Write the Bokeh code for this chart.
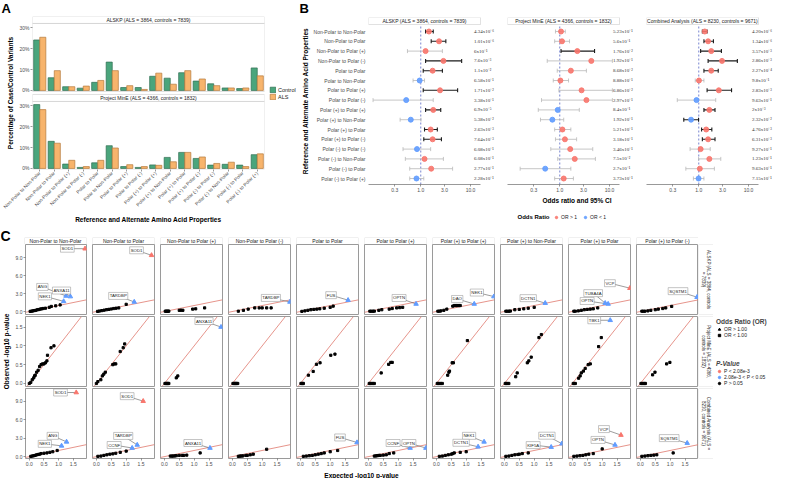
import math
from bokeh.plotting import figure
from bokeh.layouts import row, column
from bokeh.models import (Range1d, FactorRange, FixedTicker, Legend, LegendItem, Label,
                          LabelSet, BoxAnnotation, ColumnDataSource, PrintfTickFormatter,
                          CustomJSTickFormatter, Spacer)
from bokeh.transform import dodge
from bokeh.core.properties import value
from bokeh.embed import file_html
from bokeh.resources import INLINE

# ======================= DATA =======================
categories = [
    "Non-Polar to Non-Polar", "Non-Polar to Polar", "Non-Polar to Polar (+)",
    "Non-Polar to Polar (-)", "Polar to Polar", "Polar to Non-Polar",
    "Polar to Polar (+)", "Polar to Polar (-)", "Polar (+) to Polar (+)",
    "Polar (+) to Non-Polar", "Polar (+) to Polar", "Polar (+) to Polar (-)",
    "Polar (-) to Polar (-)", "Polar (-) to Non-Polar", "Polar (-) to Polar",
    "Polar (-) to Polar (+)",
]
cohort_alskp = "ALSKP (ALS = 3864, controls = 7839)"
cohort_mine = "Project MinE (ALS = 4366, controls = 1832)"
cohort_comb = "Combined Analysis (ALS = 8230, controls = 9671)"

# Panel A: percentage of case/control variants
alskp_control_pct = [24.2, 6.1, 1.8, 1.1, 3.9, 13.6, 1.4, 1.4, 6.8, 5.9, 8.5, 4.5, 3.2, 1.2, 0.9, 10.8]
alskp_als_pct = [25.5, 9.5, 1.8, 2.1, 4.8, 9.5, 2.3, 0.5, 8.3, 3.0, 9.5, 5.5, 2.3, 1.2, 1.2, 7.0]
mine_control_pct = [30.6, 13.0, 2.1, 0.5, 2.7, 10.9, 0.9, 0.5, 1.7, 5.3, 7.7, 4.8, 1.6, 2.0, 1.6, 6.6]
mine_als_pct = [28.2, 12.1, 3.9, 0.9, 3.9, 9.8, 1.8, 0.9, 1.5, 3.2, 7.7, 5.5, 2.4, 3.0, 0.9, 7.0]

# Panel B: odds ratios, 95% CI and p-values
alskp_or = [1.46, 2.33, 1.25, 2.85, 1.73, 0.95, 2.44, 0.51, 1.78, 0.63, 1.58, 1.73, 0.84, 1.19, 1.62, 0.82]
alskp_lo = [1.25, 1.62, 0.54, 1.25, 1.12, 0.70, 1.12, 0.11, 1.25, 0.385, 1.19, 1.15, 0.44, 0.49, 0.60, 0.60]
alskp_hi = [1.78, 3.19, 2.72, 6.63, 2.72, 1.19, 5.5, 1.78, 2.52, 1.01, 2.15, 2.6, 1.58, 2.85, 4.36, 1.15]
alskp_p = ["4.34e-6", "1.01e-6", "6e-1", "7.6e-3", "1.1e-2", "6.58e-1", "1.71e-2", "3.38e-1",
           "6.9e-5", "5.38e-2", "2.63e-3", "7.64e-3", "6.08e-1", "6.08e-1", "2.77e-1", "2.28e-1"]

mine_or = [1.06, 1.11, 2.25, 4.3, 1.67, 1.03, 2.74, 3.43, 0.91, 0.71, 1.13, 1.27, 1.62, 2.0, 0.51, 1.2]
mine_lo = [0.82, 0.79, 1.06, 0.56, 0.89, 0.74, 0.96, 0.43, 0.37, 0.41, 0.79, 0.82, 0.66, 0.91, 0.16, 0.79]
mine_hi = [1.29, 1.57, 5.0, 11.4, 3.43, 1.5, 11.4, 11.4, 2.47, 1.2, 1.67, 2.18, 4.6, 5.2, 1.67, 1.88]
mine_p = ["5.23e-1", "5.6e-1", "1.76e-2", "1.92e-1", "8.68e-2", "8.88e-1", "6.86e-2", "2.97e-1",
          "8.4e-1", "1.92e-1", "5.21e-1", "3.18e-1", "3.46e-1", "7.5e-2", "2.7e-1", "3.73e-1"]

comb_or = [1.32, 1.54, 1.78, 2.93, 1.78, 1.01, 2.53, 0.90, 1.63, 0.70, 1.41, 1.54, 1.09, 1.63, 1.05, 0.99]
comb_lo = [1.18, 1.27, 1.09, 1.54, 1.27, 0.85, 1.47, 0.37, 1.27, 0.50, 1.14, 1.18, 0.67, 0.99, 0.55, 0.78]
comb_hi = [1.47, 1.97, 2.85, 5.96, 2.46, 1.27, 4.56, 2.19, 2.12, 0.99, 1.83, 2.12, 1.70, 2.77, 2.06, 1.27]
comb_p = ["4.20e-6", "1.34e-6", "3.57e-3", "2.86e-3", "2.27e-4", "9.8e-1", "2.83e-3", "9.63e-1",
          "2e-3", "2.32e-2", "4.76e-3", "6.31e-3", "9.27e-1", "1.23e-1", "9.63e-1", "7.15e-1"]

# Panel C: QQ plots (expected vs observed -log10 p)
qq_columns = ["Non-Polar to Non-Polar", "Non-Polar to Polar", "Non-Polar to Polar (+)",
              "Non-Polar to Polar (-)", "Polar to Polar", "Polar to Polar (+)",
              "Polar (+) to Polar (+)", "Polar (+) to Non-Polar", "Polar (+) to Polar",
              "Polar (+) to Polar (-)"]

alskp_exp = [
    [0.03, 0.08, 0.12, 0.17, 0.22, 0.27, 0.32, 0.37, 0.42, 0.47, 0.55, 0.68, 0.75, 0.9, 1.05],
    [0.04, 0.1, 0.18, 0.26, 0.34, 0.42, 0.5, 0.58, 0.66, 0.75, 1.0],
    [0.03, 0.06, 0.09, 0.12, 0.15, 0.5, 0.56, 0.62, 0.95, 1.05, 1.35],
    [0.2, 0.37, 0.53, 0.75, 0.9, 1.0, 1.15, 1.3],
    [0.05, 0.15, 0.25, 0.35, 0.45, 0.55, 0.65, 0.8, 1.0, 1.1],
    [0.05, 0.1, 0.15, 0.2, 0.35, 0.45, 0.7, 0.8, 0.95, 1.05, 1.15],
    [0.05, 0.1, 0.15, 0.25, 0.35, 0.55, 0.6, 0.65, 0.7, 0.75, 0.8],
    [0.05, 0.1, 0.15, 0.2, 0.35, 0.5, 0.65, 0.8, 1.0],
    [0.05, 0.1, 0.2, 0.3, 0.4, 0.5, 0.6, 0.7, 0.85],
    [0.05, 0.1, 0.15, 0.25, 0.35, 0.5, 0.6, 0.75, 0.85, 1.05],
]
alskp_obs = [
    [0.02, 0.06, 0.1, 0.15, 0.2, 0.28, 0.33, 0.4, 0.45, 0.5, 0.55, 0.7, 0.85, 0.95, 1.1],
    [0.02, 0.08, 0.15, 0.22, 0.3, 0.36, 0.42, 0.5, 0.55, 0.6, 1.2],
    [0.05, 0.05, 0.05, 0.05, 0.06, 0.2, 0.22, 0.2, 0.4, 0.45, 0.6],
    [0.05, 0.2, 0.4, 0.6, 0.6, 0.6, 0.6, 0.6],
    [0.02, 0.1, 0.2, 0.3, 0.35, 0.4, 0.45, 0.55, 0.7, 0.9],
    [0.05, 0.05, 0.05, 0.06, 0.2, 0.3, 0.4, 0.5, 0.6, 0.65, 0.7],
    [0.05, 0.05, 0.1, 0.2, 0.4, 0.9, 1.0, 1.0, 1.0, 1.0, 1.0],
    [0.05, 0.05, 0.05, 0.08, 0.3, 0.35, 0.45, 0.55, 0.7],
    [0.05, 0.05, 0.1, 0.2, 0.3, 0.35, 0.4, 0.45, 0.6],
    [0.05, 0.05, 0.05, 0.1, 0.2, 0.3, 0.4, 0.5, 0.6, 0.85],
]
mine_exp = [
    [0.0, 0.05, 0.1, 0.15, 0.18, 0.2, 0.25, 0.3, 0.35, 0.4, 0.45, 0.5, 0.55, 0.6, 0.62, 0.74, 0.84],
    [0.0, 0.05, 0.15, 0.2, 0.25, 0.3, 0.55, 0.6, 0.65, 0.8, 0.9, 0.95],
    [0.02, 0.05, 0.08, 0.1, 0.12, 0.15, 0.4, 0.45],
    [0.02, 0.05, 0.08, 0.1, 0.12, 0.15, 0.18],
    [0.02, 0.05, 0.08, 0.1, 0.27, 0.43, 0.54, 0.66, 1.02, 1.16],
    [0.03, 0.06, 0.1, 0.15, 0.2, 0.43, 0.68, 0.75, 0.8],
    [0.03, 0.06, 0.1, 0.15, 0.2, 0.38, 0.42, 0.44, 0.53, 0.57, 1.04],
    [0.03, 0.06, 0.1, 0.15, 0.38, 0.43, 0.77, 0.82, 0.9, 1.16, 1.24],
    [0.03, 0.06, 0.1, 0.21, 0.26, 0.3, 0.37, 0.43, 0.53, 0.6, 0.88, 0.97],
    [0.02, 0.06, 0.1, 0.14, 0.17, 0.41, 0.49, 0.88, 0.99],
]
mine_obs = [
    [0.0, 0.03, 0.1, 0.15, 0.2, 0.22, 0.3, 0.35, 0.45, 0.5, 0.52, 0.52, 0.55, 0.6, 0.75, 0.95, 1.0],
    [0.0, 0.05, 0.1, 0.2, 0.25, 0.3, 0.5, 0.52, 0.52, 0.85, 0.95, 1.05],
    [0, 0, 0, 0, 0, 0, 0.15, 0.2],
    [0, 0, 0, 0, 0, 0, 0],
    [0, 0, 0, 0, 0.22, 0.32, 0.51, 0.55, 0.75, 0.78],
    [0, 0, 0, 0, 0, 0.28, 0.51, 0.56, 0.56],
    [0, 0, 0, 0, 0, 0.22, 0.3, 0.33, 0.55, 0.55, 1.14],
    [0, 0, 0, 0, 0.18, 0.28, 0.55, 0.6, 0.7, 1.22, 1.3],
    [0, 0, 0, 0.14, 0.2, 0.28, 0.33, 0.4, 0.5, 0.52, 0.98, 1.22],
    [0, 0, 0, 0, 0, 0.23, 0.3, 0.52, 0.56],
]
comb_exp = [
    [0.05, 0.1, 0.15, 0.2, 0.25, 0.3, 0.35, 0.4, 0.5, 0.6, 0.7, 0.8, 0.95],
    [0.05, 0.15, 0.25, 0.35, 0.45, 0.55, 0.65, 0.8, 1.0],
    [0.2, 0.25, 0.3, 0.35, 0.4, 0.5, 0.6, 0.65, 0.75, 1.2],
    [0.2, 0.25, 0.3, 0.35, 0.45, 0.5, 0.6, 0.7, 1.15],
    [0.1, 0.2, 0.3, 0.4, 0.5, 0.6, 0.7, 0.8, 1.0, 1.25],
    [0.2, 0.25, 0.3, 0.35, 0.4, 0.5, 0.6, 0.7, 0.85],
    [0.1, 0.2, 0.3, 0.4, 0.5, 0.55, 0.6, 0.8, 1.0],
    [0.05, 0.15, 0.25, 0.35, 0.45, 0.5, 0.6, 0.8],
    [0.05, 0.15, 0.25, 0.35, 0.45, 0.55, 0.7, 1.0],
    [0.05, 0.15, 0.25, 0.35, 0.45, 0.55, 1.1],
]
comb_obs = [
    [0.05, 0.1, 0.15, 0.2, 0.3, 0.35, 0.4, 0.5, 0.55, 0.6, 0.7, 0.8, 1.0],
    [0.05, 0.1, 0.2, 0.3, 0.4, 0.45, 0.55, 0.7, 0.9],
    [0.1, 0.1, 0.1, 0.12, 0.15, 0.2, 0.2, 0.2, 0.25, 0.6],
    [0.05, 0.1, 0.1, 0.12, 0.2, 0.2, 0.3, 0.4, 1.2],
    [0.05, 0.1, 0.15, 0.2, 0.3, 0.4, 0.5, 0.6, 0.8, 1.0],
    [0.1, 0.12, 0.15, 0.2, 0.2, 0.25, 0.3, 0.5, 0.6],
    [0.05, 0.1, 0.2, 0.3, 0.4, 0.5, 0.6, 0.7, 0.8],
    [0.05, 0.1, 0.2, 0.3, 0.35, 0.4, 0.5, 0.6],
    [0.05, 0.1, 0.15, 0.2, 0.3, 0.4, 0.5, 1.25],
    [0.05, 0.1, 0.15, 0.2, 0.25, 0.3, 0.6],
]

# labelled genes in panel C
alskp_gene_col = [0, 0, 0, 0, 1, 1, 3, 4, 5, 6, 6, 7, 8, 8, 8, 9]
alskp_gene_name = ["SOD1", "ANG", "ANXA11", "NEK1", "SOD1", "TARDBP", "TARDBP", "FUS", "OPTN",
                   "NEK1", "DAO", "DCTN1", "TUBA4A", "OPTN", "VCP", "SQSTM1"]
alskp_gene_exp = [1.9, 1.25, 1.4, 1.17, 1.85, 1.27, 1.93, 1.6, 1.6, 1.93, 1.27, 1.37, 1.1, 1.2, 1.93, 1.9]
alskp_gene_obs = [10.5, 2.6, 2.5, 1.7, 9.4, 1.6, 1.6, 1.9, 1.26, 2.5, 1.26, 1.4, 1.4, 1.26, 3.9, 2.4]

mine_gene_col = [2, 8]
mine_gene_name = ["ANXA11", "TBK1"]
mine_gene_exp = [1.9, 1.27]
mine_gene_obs = [1.5, 1.68]

comb_gene_col = [0, 0, 0, 1, 1, 1, 2, 4, 5, 5, 6, 6, 7, 7, 8, 8, 9]
comb_gene_name = ["SOD1", "ANG", "NEK1", "SOD1", "TARDBP", "CCNF", "ANXA11", "FUS", "CCNF", "OPTN",
                  "NEK1", "DCTN1", "DCTN1", "KIF5A", "VCP", "OPTN", "SQSTM1"]
comb_gene_exp = [1.6, 1.27, 1.1, 1.57, 1.37, 1.2, 1.53, 1.9, 1.4, 1.93, 1.6, 1.4, 1.93, 1.57, 1.63, 1.43, 1.57]
comb_gene_obs = [10.4, 2.4, 1.75, 9.0, 1.9, 1.4, 1.4, 2.3, 1.4, 1.4, 2.4, 1.6, 2.1, 1.55, 3.5, 1.9, 2.2]

P_STRICT = 2.08e-3

# ======================= STYLE =======================
FONT = "Liberation Sans"
TXT = "#4d4d4d"
FRAME_GREY = "#8f8f8f"
GREEN, GREEN_LINE = "#4aa57c", "#2f6e51"
ORANGE, ORANGE_LINE = "#f7b46c", "#b47a3c"
RED, BLUE = "#F8766D", "#619CFF"
CI_SIG, CI_NS = "#1a1a1a", "#b8b8b8"
DIAG = "#e0796d"
NAN = float("nan")

# label offsets in pixels (dx right, dy up) for gene call-outs
alskp_lab_dx = [-18, -24, -9, -19, -15, -16, -19, -17, -17, -17, -17, -17, -12, -21, -20, -19]
alskp_lab_dy = [0, 9, 6, 5, 5, 6, 4, 5, 6, 4, 5, 5, 10, 3, 5, 6]
mine_lab_dx = [-17, -16]
mine_lab_dy = [6, 0]
comb_lab_dx = [-16, -14, -17, -16, -14, -18, -17, -17, -17, -17, -15, -17, -15, -18, -17, -17, -18]
comb_lab_dy = [0, 6, 2, 5, 9, 3, 5, 5, 5, 5, 6, 4, 8, 2, 6, 5, 5]


def mkfig(w, h, xr, yr, bl=0, br=0, bt=0, bb=0, xloc=None, yloc=None, xtype="auto"):
    p = figure(width=w, height=h, x_range=xr, y_range=yr, x_axis_type=xtype,
               x_axis_location=xloc, y_axis_location=yloc,
               output_backend="svg", toolbar_location=None, tools="",
               min_border_left=bl, min_border_right=br, min_border_top=bt, min_border_bottom=bb)
    p.grid.visible = False
    p.outline_line_color = None
    p.background_fill_color = "white"
    p.border_fill_color = "white"
    for ax in list(p.xaxis) + list(p.yaxis):
        ax.major_label_text_font = FONT
        ax.major_label_text_font_size = "5px"
        ax.major_label_text_color = TXT
        ax.axis_label_text_font = FONT
        ax.axis_label_text_font_size = "6.5px"
        ax.axis_label_text_font_style = "bold"
        ax.axis_label_text_color = "black"
        ax.major_tick_out = 2
        ax.major_tick_in = 0
        ax.minor_tick_out = 0
        ax.minor_tick_in = 0
        ax.major_tick_line_color = "#555555"
        ax.major_tick_line_width = 0.6
        ax.major_label_standoff = 1
        ax.axis_label_standoff = 2
        ax.axis_line_color = None
    return p


def text_label(text, x, y, x_units="screen", y_units="screen", angle=0, size="5px",
               align="center", baseline="middle", style="normal", color="#1a1a1a"):
    return Label(x=x, y=y, x_units=x_units, y_units=y_units, text=text, angle=angle,
                 text_align=align, text_baseline=baseline, text_font=FONT,
                 text_font_size=size, text_font_style=style, text_color=color)


def style_legend(lg, title_style="bold"):
    lg.label_text_font = FONT
    lg.label_text_font_size = "5px"
    lg.label_text_color = "#222222"
    lg.title_text_font = FONT
    lg.title_text_font_size = "6.5px"
    lg.title_text_font_style = title_style
    lg.glyph_width = 6
    lg.glyph_height = 6
    lg.label_height = 6
    lg.label_width = 6
    lg.label_standoff = 2
    lg.spacing = 0
    lg.padding = 1
    lg.margin = 0
    lg.title_standoff = 1
    lg.border_line_color = None
    lg.background_fill_alpha = 0


TOTAL_W = 779
HEAD_H = 16
TOP_H = 210

# ======================= HEADER (panel letters A, B) =======================
A_W, LEGA_W = 266, 32
head = mkfig(TOTAL_W, HEAD_H, Range1d(0, 1), Range1d(0, 1))
head.add_layout(text_label("A", 1, HEAD_H / 2, size="13px", align="left",
                           style="bold", color="black"))
head.add_layout(text_label("B", A_W + LEGA_W + 1, HEAD_H / 2, size="13px", align="left",
                           style="bold", color="black"))

# ======================= PANEL A =======================
A_BL, A_BR, A_BT, A_BB = 32, 2, 0, 56
A_FW = A_W - A_BL - A_BR
A_FH = TOP_H - A_BT - A_BB
A_STRIP_H, A_GAP_H = 7, 3
A_PLOT_H = (A_FH - 2 * A_STRIP_H - A_GAP_H) / 2
PX_PCT = 2.1
a_ymin = -0.5
a_low_top = a_ymin + A_PLOT_H / PX_PCT
a_low_strip = a_low_top + A_STRIP_H / PX_PCT
a_up_bottom = a_low_strip + A_GAP_H / PX_PCT
a_up_base = a_up_bottom - a_ymin
a_up_top = a_up_bottom + A_PLOT_H / PX_PCT
a_up_strip = a_up_top + A_STRIP_H / PX_PCT

pA = mkfig(A_W, TOP_H, FactorRange(factors=categories, range_padding=0, factor_padding=0),
           Range1d(a_ymin, a_up_strip), A_BL, A_BR, A_BT, A_BB, xloc="below", yloc="left")
BW = 0.42
srcA_up = ColumnDataSource(dict(cat=categories, base=[a_up_base] * len(categories),
                                ctrl=[a_up_base + v for v in alskp_control_pct],
                                als=[a_up_base + v for v in alskp_als_pct]))
srcA_lo = ColumnDataSource(dict(cat=categories, base=[0] * len(categories),
                                ctrl=mine_control_pct, als=mine_als_pct))
for src in (srcA_up, srcA_lo):
    pA.vbar(x=dodge("cat", -BW / 2, range=pA.x_range), bottom="base", top="ctrl", width=BW,
            fill_color=GREEN, line_color=GREEN_LINE, line_width=0.7, source=src)
    pA.vbar(x=dodge("cat", BW / 2, range=pA.x_range), bottom="base", top="als", width=BW,
            fill_color=ORANGE, line_color=ORANGE_LINE, line_width=0.7, source=src)
for pb, pt, stt, txt in [(a_ymin, a_low_top, a_low_strip, cohort_mine),
                         (a_up_bottom, a_up_top, a_up_strip, cohort_alskp)]:
    pA.add_layout(BoxAnnotation(bottom=pb, top=pt, fill_color=None, line_color=FRAME_GREY, line_width=0.9))
    pA.add_layout(BoxAnnotation(bottom=pt, top=stt, fill_color="white", fill_alpha=1,
                                line_color=FRAME_GREY, line_width=0.9))
    pA.add_layout(text_label(txt, A_FW / 2, (pt + stt) / 2, y_units="data"))
pA.yaxis.ticker = FixedTicker(ticks=[0, 10, 20, 30] + [a_up_base + v for v in (0, 10, 20, 30)])
pA.yaxis.formatter = CustomJSTickFormatter(
    code=f"var v = tick > {a_low_strip:.5f} ? tick - {a_up_base:.5f} : tick; return Math.round(v) + '%';")
pA.yaxis.axis_label = "Percentage of Case/Control Variants"
pA.xaxis.axis_label = "Reference and Alternate Amino Acid Properties"
pA.xaxis.major_label_orientation = math.pi / 4
pA.xaxis.major_label_text_font_size = "4.8px"

# legend for panel A (own canvas, right of panel A, centred on its frame)
legA_fig = mkfig(LEGA_W, A_FH, Range1d(0, 1), Range1d(0, 1))
r_ctrl = legA_fig.vbar(x=[NAN], top=[NAN], width=0.1, fill_color=GREEN, line_color=GREEN_LINE, line_width=0.7)
r_als = legA_fig.vbar(x=[NAN], top=[NAN], width=0.1, fill_color=ORANGE, line_color=ORANGE_LINE, line_width=0.7)
legA = Legend(items=[LegendItem(label="Control", renderers=[r_ctrl]),
                     LegendItem(label="ALS", renderers=[r_als])],
              location="center_left")
style_legend(legA)
legA.label_text_font_size = "5.5px"
legA.glyph_width = 7
legA.glyph_height = 7
legA.label_height = 7
legA.margin = 3
legA_fig.add_layout(legA)
legA_col = column(legA_fig, Spacer(width=LEGA_W, height=A_BB))

# ======================= PANEL B =======================
LEGB_H = 20
B_H = TOP_H - LEGB_H
B_BT, B_BB = 1, 22
B_FH = B_H - B_BT - B_BB
B_AXW = 112             # width of the plotted (axis) part of each panel
B_PW = [27, 27, 21]     # room for the p-value column right of each panel
B_ROW_PX = (B_FH - 7 - 7 - 6) / 15
b_ymin = 1 - 6 / B_ROW_PX
b_rows_top = 16 + 7 / B_ROW_PX
b_ymax = b_rows_top + 7 / B_ROW_PX
B_LOG0, B_LOG1 = -1.05, 1.2
B_XMIN, B_XMAX = 10 ** B_LOG0, 10 ** B_LOG1
PX_PER_DEC = B_AXW / (B_LOG1 - B_LOG0)
P_TEXT_X = 10 ** 1.07

SUP = str.maketrans("-0123456789", "⁻⁰¹²³⁴⁵⁶⁷⁸⁹")


def fmt_p(s):
    m, e = s.split("e")
    return f"{m}x10{e.translate(SUP)}"


def forest(or_, lo, hi, pv, strip_text, bl, pw, first=False, middle=False):
    xend = 10 ** (B_LOG1 + pw / PX_PER_DEC)
    p = mkfig(bl + B_AXW + pw, B_H, Range1d(B_XMIN, xend), Range1d(b_ymin, b_ymax),
              bl, 0, B_BT, B_BB, xloc="below", yloc="left" if first else None, xtype="log")
    rows = list(range(len(or_), 0, -1))
    sig = [float(s) < 0.05 for s in pv]
    p.segment(x0=[1], y0=[b_ymin], x1=[1], y1=[b_rows_top], line_color="#5566c4",
              line_dash="2 2", line_width=0.8)
    src = ColumnDataSource(dict(y=rows, lo=lo, hi=hi,
                                col=[CI_SIG if s else CI_NS for s in sig],
                                lw=[1.1 if s else 0.8 for s in sig],
                                ptxt=[fmt_p(s) for s in pv], px=[P_TEXT_X] * len(rows)))
    p.segment(x0="lo", y0="y", x1="hi", y1="y", line_color="col", line_width="lw", source=src)
    for k in ("lo", "hi"):
        p.scatter(x=k, y="y", marker="dash", angle=math.pi / 2, size=4, line_color="col",
                  line_width="lw", source=src)
    ri = [i for i in range(len(or_)) if or_[i] > 1]
    bi = [i for i in range(len(or_)) if or_[i] <= 1]
    p.scatter(x=[or_[i] for i in ri], y=[rows[i] for i in ri], size=5, color=RED, alpha=0.9)
    p.scatter(x=[or_[i] for i in bi], y=[rows[i] for i in bi], size=5, color=BLUE, alpha=0.9)
    p.add_layout(LabelSet(x="px", y="y", text="ptxt", source=src, text_font=FONT,
                          text_font_size="5px", text_baseline="middle", text_align="left",
                          text_color="#333333"))
    p.add_layout(BoxAnnotation(left=B_XMIN, right=B_XMAX, bottom=b_rows_top, fill_color="white",
                               fill_alpha=1, line_color=FRAME_GREY, line_width=0.9))
    p.add_layout(text_label(strip_text, 10 ** ((B_LOG0 + B_LOG1) / 2), (b_rows_top + b_ymax) / 2,
                            x_units="data", y_units="data"))
    p.xaxis.ticker = FixedTicker(ticks=[0.3, 1, 3, 10])
    p.xaxis.formatter = PrintfTickFormatter(format="%.1f")
    p.xaxis.bounds = (B_XMIN, B_XMAX)
    p.xaxis.axis_line_color = "#7f7f7f"
    p.xaxis.axis_line_width = 0.8
    if first:
        p.yaxis.ticker = FixedTicker(ticks=rows)
        p.yaxis.major_label_overrides = {r: c for r, c in zip(rows, categories)}
        p.yaxis.major_tick_line_color = None
        p.yaxis.axis_label = "Reference and Alternate Amino Acid Properties"
    if middle:
        p.xaxis.axis_label = "Odds ratio and 95% CI"
    return p


B1_BL = 70
pB1 = forest(alskp_or, alskp_lo, alskp_hi, alskp_p, cohort_alskp, B1_BL, B_PW[0], first=True)
pB2 = forest(mine_or, mine_lo, mine_hi, mine_p, cohort_mine, 0, B_PW[1], middle=True)
pB3 = forest(comb_or, comb_lo, comb_hi, comb_p, cohort_comb, 0, B_PW[2])
B_W = B1_BL + 3 * B_AXW + sum(B_PW)

# legend under panel B (own canvas)
legB_fig = mkfig(B_W, LEGB_H, Range1d(0, 1), Range1d(0, 1))
r_or_hi = legB_fig.scatter([NAN], [NAN], size=5, color=RED, alpha=0.9)
r_or_lo = legB_fig.scatter([NAN], [NAN], size=5, color=BLUE, alpha=0.9)
b2_center = B1_BL + B_AXW + B_PW[0] + B_AXW / 2
legB = Legend(items=[LegendItem(label="OR > 1", renderers=[r_or_hi]),
                     LegendItem(label="OR < 1", renderers=[r_or_lo])],
              orientation="horizontal", location=(b2_center - 10, LEGB_H - 14))
style_legend(legB)
legB.label_width = 18
legB.spacing = 3
legB_fig.add_layout(legB)
legB_fig.add_layout(text_label("Odds Ratio", b2_center - 14, LEGB_H - 10, size="6px",
                               align="right", style="bold", color="black"))

top_row = row(pA, legA_col, column(row(pB1, pB2, pB3), legB_fig))

# ======================= PANEL C =======================
C_FW, C_FH, C_GAP, C_LB, C_RG, C_BB = 62, 70, 6, 12, 2, 10
C_STRIP_TOP, C_STRIP_H = 11, 7
C_XR = (-0.13, 1.95)
C_YR = [(-0.5, 11.2), (-0.08, 1.78), (-0.3, 11.05)]
C_YT = [[0, 3, 6, 9], [0, 0.5, 1, 1.5], [0, 3, 6, 9]]
RSTRIP_W = 15
XT_H = 10
thr = -math.log10(P_STRICT)


def wrap(s, n=27):
    words, lines, cur = s.split(" "), [], ""
    for w in words:
        t = (cur + " " + w).strip()
        if len(t) > n and cur:
            lines.append(cur)
            cur = w
        else:
            cur = t
    lines.append(cur)
    return lines


def col_borders(ci):
    return (C_LB if ci == 0 else 0), (C_GAP if ci < len(qq_columns) - 1 else 0)


strip_figs = []
for ci, title in enumerate(qq_columns):
    bl, br = col_borders(ci)
    f = mkfig(bl + C_FW + br, C_STRIP_TOP + C_STRIP_H, Range1d(0, 1), Range1d(0, 1), bl, br, C_STRIP_TOP, 0)
    f.add_layout(BoxAnnotation(fill_color="white", fill_alpha=1, line_color=FRAME_GREY, line_width=0.9))
    f.add_layout(text_label(title, C_FW / 2, C_STRIP_H / 2))
    strip_figs.append(f)
grid_rows = [row(*strip_figs, Spacer(width=RSTRIP_W, height=C_STRIP_TOP + C_STRIP_H))]

rows_spec = [
    (alskp_exp, alskp_obs, alskp_gene_col, alskp_gene_name, alskp_gene_exp, alskp_gene_obs,
     alskp_lab_dx, alskp_lab_dy, cohort_alskp),
    (mine_exp, mine_obs, mine_gene_col, mine_gene_name, mine_gene_exp, mine_gene_obs,
     mine_lab_dx, mine_lab_dy, cohort_mine),
    (comb_exp, comb_obs, comb_gene_col, comb_gene_name, comb_gene_exp, comb_gene_obs,
     comb_lab_dx, comb_lab_dy, cohort_comb),
]
for ri, (ex, ob, gcol, gname, gx_all, gy_all, gdx, gdy, cohort) in enumerate(rows_spec):
    bb = C_RG if ri < 2 else C_BB
    ymin, ymax = C_YR[ri]
    pxx = C_FW / (C_XR[1] - C_XR[0])
    pxy = C_FH / (ymax - ymin)
    figs = []
    for ci in range(len(qq_columns)):
        bl, br = col_borders(ci)
        p = mkfig(bl + C_FW + br, C_FH + bb, Range1d(*C_XR), Range1d(ymin, ymax), bl, br, 0, bb,
                  xloc="below" if ri == 2 else None, yloc="left" if ci == 0 else None)
        p.outline_line_color = FRAME_GREY
        p.outline_line_width = 0.9
        lo_d, hi_d = max(C_XR[0], ymin), min(C_XR[1], ymax)
        p.line([lo_d, hi_d], [lo_d, hi_d], line_color=DIAG, line_width=0.8)
        p.scatter(ex[ci], ob[ci], marker="square", size=2.2, color="black")
        idx = [k for k, c in enumerate(gcol) if c == ci]
        if idx:
            gx = [gx_all[k] for k in idx]
            gy = [gy_all[k] for k in idx]
            src = ColumnDataSource(dict(
                x=gx, y=gy,
                lx=[gx_all[k] + gdx[k] / pxx for k in idx],
                ly=[gy_all[k] + gdy[k] / pxy for k in idx],
                name=[gname[k] for k in idx],
                col=[RED if v > thr else BLUE for v in gy]))
            p.segment(x0="lx", y0="ly", x1="x", y1="y", line_color="#5a5a5a", line_width=0.6, source=src)
            p.scatter(x="x", y="y", marker="triangle", size=4.5, color="col", source=src)
            p.text(x="lx", y="ly", text="name", source=src, text_font=value(FONT),
                   text_font_size="4.3px", text_align="center", text_baseline="middle",
                   text_color="#222222", background_fill_color="white",
                   border_line_color="#8a8a8a", border_line_width=0.5, padding=1)
        if ci == 0:
            p.yaxis.ticker = FixedTicker(ticks=C_YT[ri])
            p.yaxis.formatter = PrintfTickFormatter(format="%.1f")
        if ri == 2:
            p.xaxis.ticker = FixedTicker(ticks=[0, 0.5, 1, 1.5])
            p.xaxis.formatter = PrintfTickFormatter(format="%.1f")
        figs.append(p)
    rs = mkfig(RSTRIP_W, C_FH + bb, Range1d(0, 1), Range1d(0, 1), 0, 0, 0, bb)
    rs.add_layout(BoxAnnotation(fill_color="white", fill_alpha=1, line_color=FRAME_GREY, line_width=0.9))
    lines = wrap(cohort)
    n = len(lines)
    for li, t in enumerate(lines):
        xs = RSTRIP_W * (n - li) / (n + 1)
        rs.add_layout(text_label(t, xs, C_FH / 2, angle=-math.pi / 2, size="4.5px"))
    grid_rows.append(row(*figs, rs))

grid_w = C_LB + len(qq_columns) * C_FW + (len(qq_columns) - 1) * C_GAP + RSTRIP_W
xt = mkfig(grid_w, XT_H, Range1d(0, 1), Range1d(0, 1))
xt.add_layout(text_label("Expected -log10 p-value",
                         C_LB + (len(qq_columns) * C_FW + (len(qq_columns) - 1) * C_GAP) / 2, XT_H / 2,
                         size="6.5px", style="bold", color="black"))
grid_rows.append(xt)
grid = column(*grid_rows)

C_H = C_STRIP_TOP + C_STRIP_H + 2 * (C_FH + C_RG) + C_FH + C_BB + XT_H
left = mkfig(12, C_H, Range1d(0, 1), Range1d(0, 1))
left.add_layout(text_label("C", 0, C_H - 1, size="14px", align="left", baseline="top",
                           style="bold", color="black"))
rows_mid = C_H - (C_STRIP_TOP + C_STRIP_H + (3 * C_FH + 2 * C_RG) / 2)
left.add_layout(text_label("Observed -log10 p-value", 6, rows_mid, angle=math.pi / 2,
                           size="6.5px", style="bold", color="black"))

legC = mkfig(TOTAL_W - 12 - grid_w, C_H, Range1d(0, 1), Range1d(0, 1))
r_tri = legC.scatter([NAN], [NAN], marker="triangle", size=5, color="black")
r_sq = legC.scatter([NAN], [NAN], marker="square", size=4, color="black")
r_p1 = legC.scatter([NAN], [NAN], marker="circle", size=5, color=RED)
r_p2 = legC.scatter([NAN], [NAN], marker="circle", size=5, color=BLUE)
r_p3 = legC.scatter([NAN], [NAN], marker="circle", size=5, color="black")
lg1 = Legend(title="Odds Ratio (OR)", items=[LegendItem(label="OR > 1.00", renderers=[r_tri]),
                                             LegendItem(label="OR < 1.00", renderers=[r_sq])],
             location=(3, 140))
lg2 = Legend(title="P-Value", items=[LegendItem(label="P < 2.08e-3", renderers=[r_p1]),
                                     LegendItem(label="2.08e-3 < P < 0.05", renderers=[r_p2]),
                                     LegendItem(label="P > 0.05", renderers=[r_p3])],
             location=(3, 92))
style_legend(lg1)
style_legend(lg2, "bold italic")
legC.add_layout(lg1)
legC.add_layout(lg2)

layout = column(head, top_row, row(left, grid, legC))

open("out.html", "w").write(file_html(layout, INLINE))
